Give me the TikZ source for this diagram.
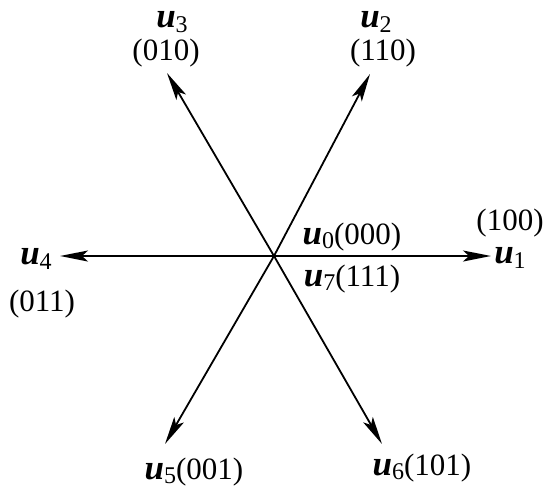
\documentclass[tikz,border=0pt]{standalone}
\usepackage{fontspec}
\setmainfont{Liberation Serif}
\usetikzlibrary{arrows.meta}
\newcommand\uvec[1]{{\fontsize{35}{35}\selectfont\textbf{\textit{u}}}\raisebox{-4.5pt}{\fontsize{24}{24}\selectfont #1}}
\begin{document}
\begin{tikzpicture}[x=1pt,y=-1pt,
  vec/.style={line width=1.8pt,-{Stealth[length=28pt,width=11pt,inset=6pt]}},
  lbl/.style={inner sep=0pt,font=\fontsize{31}{31}\selectfont}]
\useasboundingbox (0,0) rectangle (548,491);
\coordinate (O) at (274,256);
\coordinate (A1) at (491,256);
\coordinate (A2) at (370,74);
\coordinate (A3) at (167,73);
\coordinate (A4) at (60,256);
\coordinate (A5) at (165,444);
\coordinate (A6) at (382,444);
\foreach \t in {A1,A2,A3,A4,A5,A6} \draw[vec] (O) -- (\t);
\node[lbl] (u3) at (172,22) {\uvec{3}};
\node[lbl] (p3) at (166,53) {(010)};
\node[lbl] (u2) at (376,22) {\uvec{2}};
\node[lbl] (p2) at (383,53) {(110)};
\node[lbl] (u1) at (510,258) {\uvec{1}};
\node[lbl] (p1) at (510,223) {(100)};
\node[lbl] (u4) at (36,259) {\uvec{4}};
\node[lbl] (p4) at (42,304) {(011)};
\node[lbl] (u0) at (352,237) {\uvec{0}(000)};
\node[lbl] (u7) at (352,279) {\uvec{7}(111)};
\node[lbl] (u5) at (194,472) {\uvec{5}(001)};
\node[lbl] (u6) at (422,468) {\uvec{6}(101)};
\end{tikzpicture}
\end{document}
